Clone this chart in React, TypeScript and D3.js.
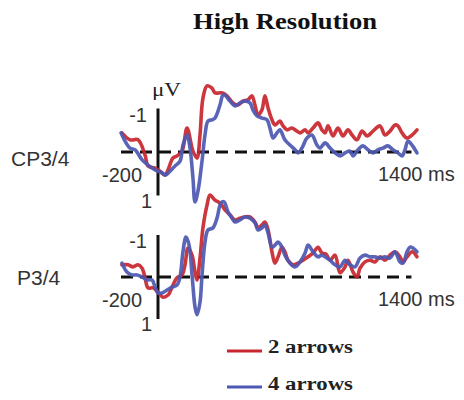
import React from "react";
import * as d3 from "d3";

const title = "High Resolution";
const panelLabels = ["CP3/4", "P3/4"];
const seriesNames = ["2 arrows", "4 arrows"];
const seriesColors = ["#c8262e", "#4c58b2"];
const xTickLabels = ["-200", "1400 ms"];
const yTickLabels = ["-1", "1"];
const unitLabel = "\u03bcV";

// [time ms, amplitude µV] (negative plotted upward)
const cpRed: [number, number][] = [
  [-195, -0.44], [-151, -0.28], [-108, -0.28], [-70, 0.07], [-54, 0.32], [-16, 0.37], [11, 0.44], [38, 0.53], [54, 0.41], [81, 0.14],
  [103, 0.09], [130, -0.02], [157, -0.55], [189, -0.02], [211, 0.14], [227, -0.39], [243, -1.24], [265, -1.52], [292, -1.47], [308, -1.36],
  [346, -1.36], [373, -1.29], [405, -1.13], [432, -1.08], [459, -1.17], [486, -1.2], [508, -1.29], [524, -1.08], [541, -0.85], [562, -0.97],
  [578, -1.29], [595, -1.01], [616, -0.74], [632, -0.62], [659, -0.71], [676, -0.6], [697, -0.51], [724, -0.55], [751, -0.48], [768, -0.44],
  [795, -0.51], [811, -0.44], [838, -0.55], [865, -0.67], [886, -0.51], [903, -0.44], [919, -0.6], [946, -0.37], [973, -0.55], [1000, -0.37],
  [1027, -0.51], [1049, -0.39], [1076, -0.28], [1103, -0.48], [1130, -0.37], [1162, -0.48], [1200, -0.6], [1227, -0.39], [1254, -0.48], [1281, -0.62],
  [1297, -0.6], [1319, -0.44], [1346, -0.32], [1373, -0.39], [1400, -0.51],
];
const cpBlue: [number, number][] = [
  [-200, -0.44], [-178, -0.25], [-151, -0.09], [-124, -0.05], [-86, 0.18], [-54, 0.3], [-16, 0.41], [22, 0.48], [38, 0.53], [65, 0.44],
  [92, 0.32], [119, 0.21], [135, -0.16], [157, -0.39], [173, -0.09], [189, 0.6], [200, 1.15], [216, 0.9], [238, 0.21], [254, -0.39],
  [270, -0.71], [292, -0.74], [308, -0.78], [335, -1.08], [351, -1.31], [362, -1.31], [389, -1.17], [416, -1.06], [443, -1.13], [470, -1.17],
  [497, -1.13], [513, -0.97], [535, -0.83], [562, -0.78], [589, -0.74], [605, -0.55], [622, -0.32], [643, -0.44], [659, -0.51], [686, -0.28],
  [713, -0.16], [741, -0.05], [757, 0.02], [778, -0.09], [805, -0.32], [832, -0.39], [859, -0.16], [876, -0.09], [903, -0.21], [930, -0.09],
  [957, 0.02], [984, 0.09], [1011, 0.02], [1038, -0.02], [1054, 0.09], [1081, -0.05], [1108, -0.14], [1135, -0.05], [1162, 0.02], [1189, -0.05],
  [1216, -0.09], [1243, -0.14], [1270, -0.05], [1297, 0.02], [1319, 0.09], [1335, -0.05], [1351, -0.25], [1373, -0.16], [1400, 0.02],
];
const pRed: [number, number][] = [
  [-195, -0.29], [-162, -0.29], [-135, -0.24], [-108, -0.29], [-86, -0.21], [-70, 0.02], [-54, 0.26], [-27, 0.26], [0, 0.36], [27, 0.48],
  [54, 0.43], [81, 0.19], [103, 0.02], [130, -0.05], [146, -0.29], [162, -0.69], [184, -0.52], [200, -0.12], [211, 0.07], [227, -0.45],
  [243, -1.17], [265, -1.71], [281, -1.95], [308, -1.83], [335, -1.76], [362, -1.6], [389, -1.48], [416, -1.36], [443, -1.4], [470, -1.43],
  [497, -1.43], [524, -1.31], [541, -1.17], [562, -1.24], [578, -1.31], [595, -1.12], [616, -0.6], [632, -0.33], [649, -0.48], [670, -0.71],
  [686, -0.6], [703, -0.4], [730, -0.29], [757, -0.33], [784, -0.4], [811, -0.48], [838, -0.57], [865, -0.71], [886, -0.57], [908, -0.55],
  [930, -0.4], [957, -0.52], [984, -0.1], [1011, -0.24], [1027, -0.4], [1054, -0.12], [1076, 0], [1092, -0.21], [1119, -0.36], [1146, -0.4],
  [1173, -0.36], [1200, -0.48], [1227, -0.4], [1254, -0.52], [1281, -0.6], [1308, -0.48], [1324, -0.36], [1346, -0.48], [1373, -0.6], [1400, -0.48],
];
const pBlue: [number, number][] = [
  [-195, -0.33], [-168, -0.12], [-141, -0.05], [-113, -0.05], [-86, 0], [-59, 0.07], [-32, 0.07], [-16, 0.24], [0, 0.38], [22, 0.38],
  [49, 0.31], [76, 0.24], [103, 0.19], [119, 0], [135, -0.6], [151, -0.95], [168, -0.76], [184, -0.05], [200, 0.71], [211, 0.9],
  [227, 0.6], [238, -0.05], [254, -0.83], [270, -1.12], [297, -1.17], [319, -1.4], [340, -1.76], [357, -1.79], [378, -1.55], [400, -1.4],
  [416, -1.31], [443, -1.36], [470, -1.43], [497, -1.4], [524, -1.29], [541, -1.12], [562, -1.17], [578, -1.24], [595, -1.05], [616, -0.71],
  [632, -0.76], [649, -0.83], [670, -0.71], [686, -0.52], [713, -0.33], [741, -0.24], [768, -0.36], [795, -0.57], [811, -0.76], [838, -0.6],
  [865, -0.48], [886, -0.52], [913, -0.45], [930, -0.4], [957, -0.29], [984, -0.24], [1011, -0.4], [1038, -0.29], [1065, -0.24], [1092, -0.45],
  [1119, -0.52], [1146, -0.48], [1173, -0.48], [1200, -0.45], [1227, -0.48], [1254, -0.45], [1281, -0.6], [1308, -0.36], [1324, -0.33], [1346, -0.6],
  [1362, -0.71], [1378, -0.69], [1400, -0.6],
];

const W = 464;
const H = 400;
const sans = "'Liberation Sans', Arial, sans-serif";
const serif = "'Liberation Serif', 'Times New Roman', serif";

const x = d3.scaleLinear().domain([-200, 1400]).range([121, 417]);

const panels = [
  { label: panelLabels[0], series: [cpRed, cpBlue], yRange: [108.5, 195.5], labelX: 11, labelDy: 14, unit: true },
  { label: panelLabels[1], series: [pRed, pBlue], yRange: [235, 319], labelX: 17, labelDy: 8, unit: false },
];

export default function App() {
  return (
    <svg
      width={W}
      height={H}
      style={{ position: "absolute", left: 0, top: 0, background: "#fff" }}
    >
      <text x={193} y={29} fontFamily={serif} fontWeight="bold" fontSize={23} fill="#111"
        textLength={184} lengthAdjust="spacingAndGlyphs">{title}</text>
      {panels.map((p, pi) => {
        const y = d3.scaleLinear().domain([-1, 1]).range(p.yRange);
        const line = d3
          .line<[number, number]>()
          .x((d) => x(d[0]))
          .y((d) => y(d[1]))
          .curve(d3.curveCatmullRom.alpha(0.5));
        const y0 = y(0);
        return (
          <g key={pi}>
            <text x={p.labelX} y={y0 + p.labelDy} fontFamily={sans} fontSize={21} fill="#333">{p.label}</text>
            {p.unit && (
              <text x={152} y={96} fontFamily={serif} fontSize={19} fill="#222"
                textLength={29} lengthAdjust="spacingAndGlyphs">{unitLabel}</text>
            )}
            <line x1={x(-200)} x2={x(1370)} y1={y0} y2={y0} stroke="#111" strokeWidth={3}
              strokeDasharray="12,7" />
            <line x1={x(0)} x2={x(0)} y1={y(-1)} y2={y(1)} stroke="#111" strokeWidth={3} />
            <text x={147} y={y(-1) + 13} textAnchor="end" fontFamily={sans} fontSize={20} fill="#333">{yTickLabels[0]}</text>
            <text x={152} y={y(1) + 12} textAnchor="end" fontFamily={sans} fontSize={20} fill="#333">{yTickLabels[1]}</text>
            <text x={142} y={y0 + 30} textAnchor="end" fontFamily={sans} fontSize={20} fill="#333">{xTickLabels[0]}</text>
            <text x={378} y={y0 + 29} fontFamily={sans} fontSize={20} fill="#333">{xTickLabels[1]}</text>
            {p.series.map((s, si) => (
              <path key={si} d={line(s) || ""} fill="none" stroke={seriesColors[si]} strokeWidth={3.6}
                strokeLinejoin="round" strokeLinecap="round" opacity={0.92} />
            ))}
          </g>
        );
      })}
      {seriesNames.map((name, i) => (
        <g key={name}>
          <line x1={227} x2={262} y1={351 + i * 36} y2={351 + i * 36} stroke={seriesColors[i]} strokeWidth={3} />
          <text x={268} y={353 + i * 37} fontFamily={serif} fontWeight="bold" fontSize={18} fill="#222"
            textLength={85} lengthAdjust="spacingAndGlyphs">{name}</text>
        </g>
      ))}
    </svg>
  );
}
